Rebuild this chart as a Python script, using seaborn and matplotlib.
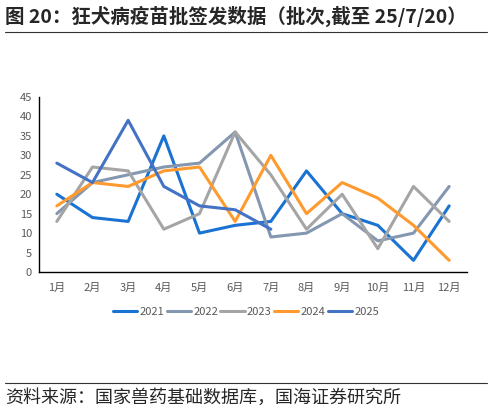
import pandas as pd
import matplotlib
matplotlib.use("Agg")
import matplotlib.pyplot as plt
import seaborn as sns

# Data
months = ["1月", "2月", "3月", "4月", "5月", "6月", "7月", "8月", "9月", "10月", "11月", "12月"]
y2021 = [20, 14, 13, 35, 10, 12, 13, 26, 15, 12, 3, 17]
y2022 = [15, 23, 25, 27, 28, 36, 9, 10, 15, 8, 10, 22]
y2023 = [13, 27, 26, 11, 15, 36, 25, 11, 20, 6, 22, 13]
y2024 = [17, 23, 22, 26, 27, 13, 30, 15, 23, 19, 12, 3]
y2025 = [28, 23, 39, 22, 17, 16, 11]
years = ["2021", "2022", "2023", "2024", "2025"]
series = [y2021, y2022, y2023, y2024, y2025]
colors = ["#1a73d2", "#8497b0", "#a5a5a5", "#ff9a2e", "#4472c4"]

rows = []
for yr, vals in zip(years, series):
    for i, v in enumerate(vals):
        rows.append({"month": i, "year": yr, "count": v})
df = pd.DataFrame(rows)

sns.set_style("white")
plt.rcParams["font.family"] = ["Noto Sans CJK SC", "DejaVu Sans"]

fig = plt.figure(figsize=(4.92, 4.11), dpi=100)
ax = fig.add_axes([39 / 492, 1 - 272 / 411, 428 / 492, 175 / 411])

sns.lineplot(data=df, x="month", y="count", hue="year", palette=colors,
             linewidth=2.2, ax=ax, legend=False)

ax.set_xlim(-0.5, 11.5)
ax.set_ylim(0, 45)
ax.set_yticks(range(0, 46, 5))
ax.set_xticks(range(12))
ax.set_xticklabels(months)
ax.set_xticks([i - 0.5 for i in range(13)], minor=True)
ax.tick_params(axis="x", which="major", length=0, pad=8, labelsize=8, labelcolor="#595959")
ax.tick_params(axis="x", which="minor", length=4, width=1, color="black", direction="out")
ax.tick_params(axis="y", length=3, width=1, color="black", direction="out",
               labelsize=8, labelcolor="#595959", pad=2)
ax.set_xlabel("")
ax.set_ylabel("")
for s in ["top", "right"]:
    ax.spines[s].set_visible(False)
for s in ["left", "bottom"]:
    ax.spines[s].set_color("black")
    ax.spines[s].set_linewidth(1)

handles = [plt.Line2D([], [], color=c, lw=2.2) for c in colors]
leg = fig.legend(handles, years, loc="center", bbox_to_anchor=(246 / 492, 1 - 312 / 411),
                 ncol=5, frameon=False, fontsize=8, handlelength=2.2, handletextpad=0.2,
                 columnspacing=0.2, labelcolor="#595959")

fig.text(5 / 492, 1 - 16 / 411, "图 20：狂犬病疫苗批签发数据（批次,截至 25/7/20）",
         fontsize=14, fontweight="bold", va="center", ha="left")
fig.add_artist(plt.Line2D([5 / 492, 487 / 492], [1 - 32 / 411, 1 - 32 / 411],
                          color="#333333", lw=0.8))
fig.add_artist(plt.Line2D([5 / 492, 487 / 492], [1 - 383 / 411, 1 - 383 / 411],
                          color="#333333", lw=0.8))
fig.text(5 / 492, 1 - 398 / 411, "资料来源：国家兽药基础数据库，国海证券研究所",
         fontsize=13, va="center", ha="left")

fig.savefig("out.png", dpi=100)
